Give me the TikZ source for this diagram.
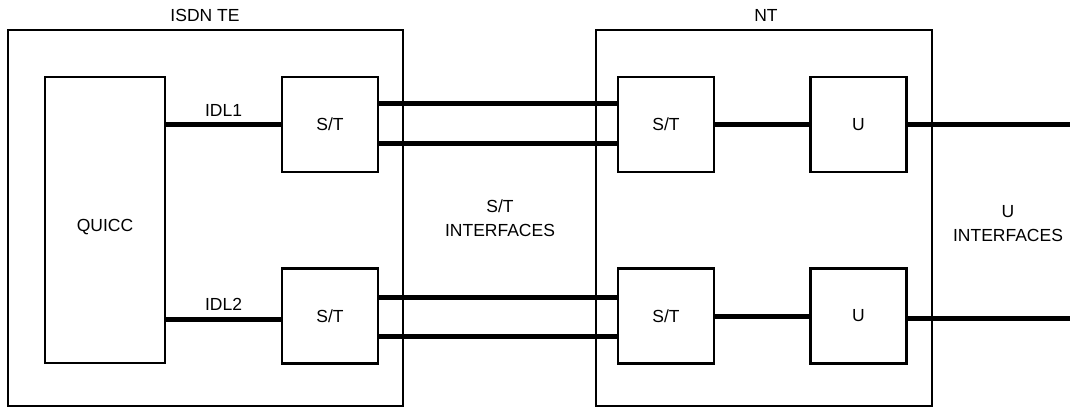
\documentclass[tikz,border=0pt]{standalone}
\usepackage{fontspec}
\setmainfont{Liberation Sans}
\begin{document}
\begin{tikzpicture}[x=1pt,y=-1pt,
  blk/.style={draw,line width=2.4pt,inner sep=0pt,minimum width=96pt,minimum height=95pt},
  wire/.style={line width=5pt},
  lbl/.style={font=\fontsize{17.5}{24}\selectfont,inner sep=0pt,align=center},
  every node/.append style={font=\fontsize{17.5}{24}\selectfont}]
\useasboundingbox (0,0) rectangle (1070,408);
% outer boxes
\node[draw,line width=2.4pt,inner sep=0pt,minimum width=395pt,minimum height=376pt] (TE) at (205.5,218) {};
\node[draw,line width=2.4pt,inner sep=0pt,minimum width=336pt,minimum height=376pt] (NT) at (764,218) {};
\node[lbl] (TElbl) at (205,15) {ISDN TE};
\node[lbl] (NTlbl) at (766,15) {NT};
% inner blocks
\node[draw,line width=2.4pt,inner sep=0pt,minimum width=120pt,minimum height=286pt] (Q) at (105,220) {};
\node[lbl] (Qlbl) at (105,227) {QUICC};
\node[blk] (ST1) at (330,124.5) {S/T};
\node[blk] (ST2) at (330,316) {S/T};
\node[blk] (NST1) at (666,124.5) {S/T};
\node[blk] (NST2) at (666,316) {S/T};
\node[blk] (U1) at (858.5,124.5) {U};
\node[blk] (U2) at (858.5,316) {U};
\coordinate (E1) at (1070,124);
\coordinate (E2) at (1070,318);
% wires
\draw[wire] (ST1.west -| Q.east) -- node[lbl,above=6pt] {IDL1} (ST1.west);
\draw[wire] ([yshift=-3pt]ST2.west -| Q.east) -- node[lbl,above=6pt] {IDL2} ([yshift=-3pt]ST2.west);
\draw[wire] ([yshift=21.5pt]ST1.east) -- ([yshift=21.5pt]NST1.west);
\draw[wire] ([yshift=-18.5pt]ST1.east) -- ([yshift=-18.5pt]NST1.west);
\draw[wire] ([yshift=19pt]ST2.east) -- ([yshift=19pt]NST2.west);
\draw[wire] ([yshift=-20pt]ST2.east) -- ([yshift=-20pt]NST2.west);
\draw[wire] (NST1.east) -- (U1.west);
\draw[wire] (NST2.east) -- (U2.west);
\draw[wire] (U1.east |- E1) -- (E1);
\draw[wire] (U2.east |- E2) -- (E2);
% interface labels
\node[lbl] (STI) at (500,218) {S/T\\INTERFACES};
\node[lbl] (UI) at (1008,224) {U\\INTERFACES};
\end{tikzpicture}
\end{document}
